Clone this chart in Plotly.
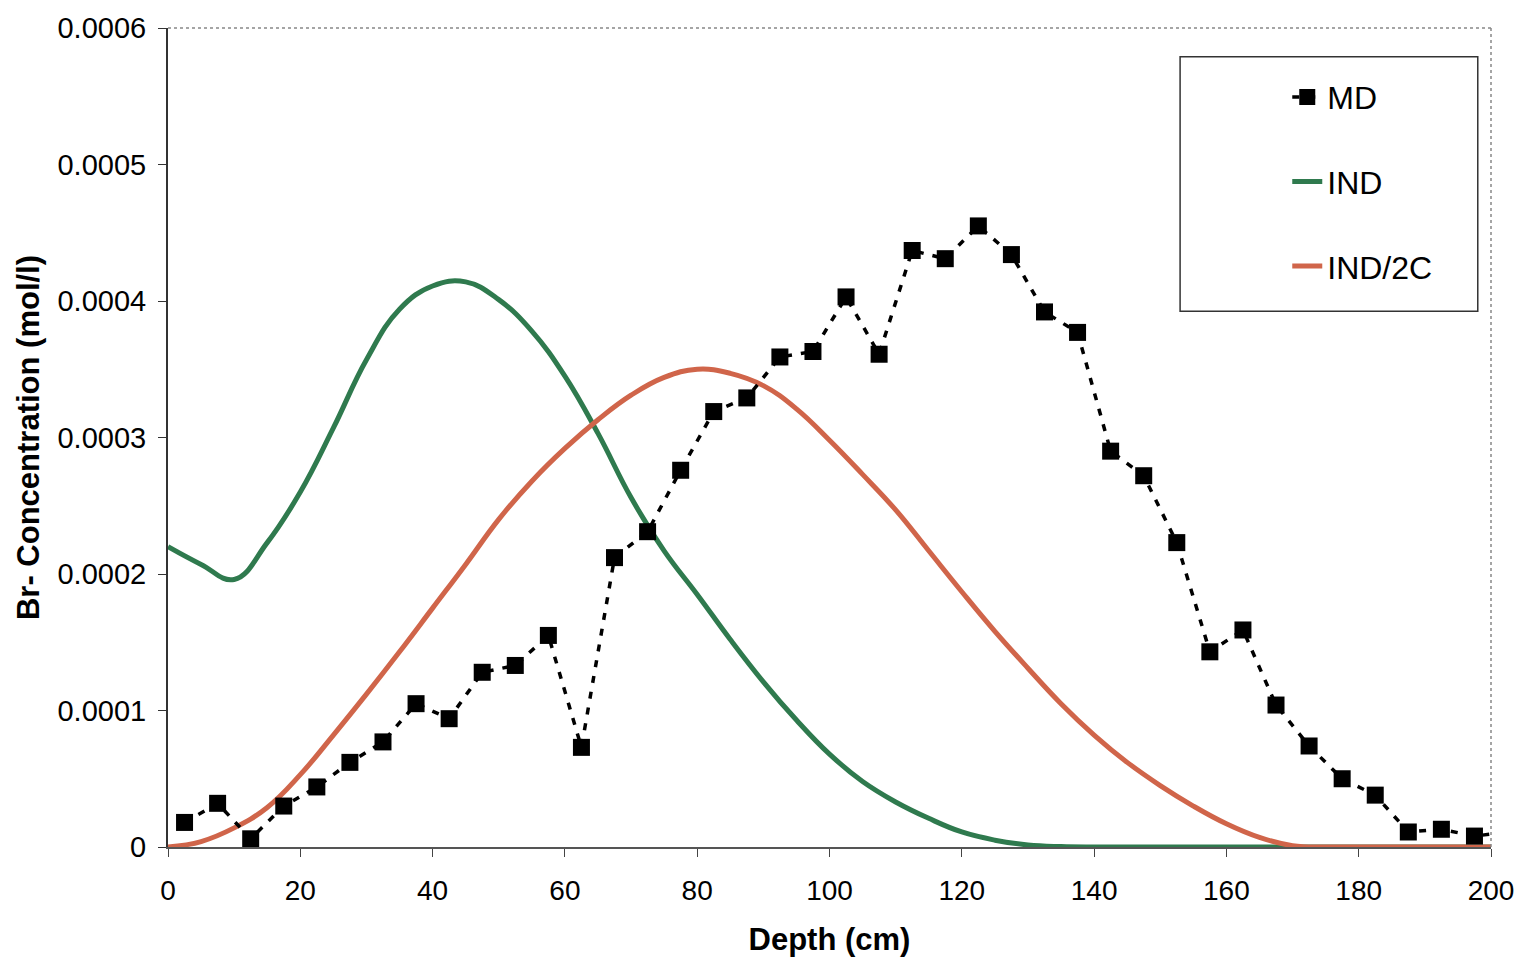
import plotly.graph_objects as go

# ---- data ----
md_depth = [2.5, 7.5, 12.5, 17.5, 22.5, 27.5, 32.5, 37.5, 42.5, 47.5,
            52.5, 57.5, 62.5, 67.5, 72.5, 77.5, 82.5, 87.5, 92.5, 97.5,
            102.5, 107.5, 112.5, 117.5, 122.5, 127.5, 132.5, 137.5, 142.5, 147.5,
            152.5, 157.5, 162.5, 167.5, 172.5, 177.5, 182.5, 187.5, 192.5, 197.5, 202.5]
md_conc = [1.8e-5, 3.2e-5, 0.6e-5, 3.0e-5, 4.4e-5, 6.2e-5, 7.7e-5, 1.05e-4, 9.4e-5, 1.28e-4,
           1.33e-4, 1.55e-4, 7.3e-5, 2.12e-4, 2.31e-4, 2.76e-4, 3.19e-4, 3.29e-4, 3.59e-4, 3.63e-4,
           4.03e-4, 3.61e-4, 4.37e-4, 4.31e-4, 4.55e-4, 4.34e-4, 3.92e-4, 3.77e-4, 2.90e-4, 2.72e-4,
           2.23e-4, 1.43e-4, 1.59e-4, 1.04e-4, 7.4e-5, 5.0e-5, 3.8e-5, 1.1e-5, 1.3e-5, 0.8e-5, 1.1e-5]

curve_depth = [0, 5, 10, 15, 20, 25, 30, 35, 40, 45, 50, 55, 60, 65, 70, 75, 80, 85, 90, 95,
               100, 105, 110, 115, 120, 125, 130, 135, 140, 145, 150, 155, 160, 165, 170,
               175, 180, 185, 190, 195, 200]
ind_conc = [2.20e-4, 2.07e-4, 1.96e-4, 2.23e-4, 2.60e-4, 3.07e-4, 3.57e-4, 3.94e-4, 4.11e-4, 4.14e-4,
            4.01e-4, 3.78e-4, 3.45e-4, 3.03e-4, 2.56e-4, 2.17e-4, 1.85e-4, 1.52e-4, 1.21e-4, 0.93e-4,
            0.68e-4, 0.48e-4, 0.33e-4, 0.21e-4, 0.11e-4, 0.05e-4, 0.015e-4, 0.003e-4, 0.0, 0.0,
            0.0, 0.0, 0.0, 0.0, 0.0, 0.0, 0.0, 0.0, 0.0, 0.0, 0.0]
ind2c_conc = [0.0, 0.04e-4, 0.14e-4, 0.29e-4, 0.53e-4, 0.82e-4, 1.12e-4, 1.43e-4, 1.75e-4, 2.07e-4,
              2.40e-4, 2.68e-4, 2.92e-4, 3.13e-4, 3.31e-4, 3.44e-4, 3.50e-4, 3.47e-4, 3.38e-4, 3.21e-4,
              2.98e-4, 2.73e-4, 2.47e-4, 2.17e-4, 1.87e-4, 1.58e-4, 1.31e-4, 1.05e-4, 0.82e-4, 0.62e-4,
              0.45e-4, 0.30e-4, 0.17e-4, 0.07e-4, 0.01e-4, 0.0, 0.0, 0.0, 0.0, 0.0, 0.0]

x_ticks = [0, 20, 40, 60, 80, 100, 120, 140, 160, 180, 200]
y_ticks = [0, 0.0001, 0.0002, 0.0003, 0.0004, 0.0005, 0.0006]
y_tick_text = ["0", "0.0001", "0.0002", "0.0003", "0.0004", "0.0005", "0.0006"]

FONT = "Liberation Sans, Arial, sans-serif"

fig = go.Figure()
fig.add_trace(go.Scatter(
    x=curve_depth, y=ind_conc, name="IND", mode="lines",
    line=dict(color="#2F7A4E", width=5, shape="spline", smoothing=1.2),
    legendgroup="b", legendrank=2))
fig.add_trace(go.Scatter(
    x=curve_depth, y=ind2c_conc, name="IND/2C", mode="lines",
    line=dict(color="#D0654A", width=5, shape="spline", smoothing=1.2),
    legendgroup="c", legendrank=3))
fig.add_trace(go.Scatter(
    x=md_depth, y=md_conc, name="MD", mode="lines+markers",
    line=dict(color="black", width=3.5, dash="7px,9px"),
    marker=dict(symbol="square", size=17, color="black"),
    legendgroup="a", legendrank=1))

fig.update_layout(
    width=1534, height=965,
    margin=dict(l=168, r=43, t=26, b=118),
    paper_bgcolor="white", plot_bgcolor="white",
    font=dict(family=FONT, color="black"),
    showlegend=True,
    legend=dict(x=0.846, y=0.9492, xanchor="left", yanchor="top",
                bgcolor="rgba(0,0,0,0)", borderwidth=0,
                font=dict(size=32, family=FONT, color="black"),
                tracegroupgap=40, traceorder="grouped"),
    xaxis=dict(range=[0, 200], tickvals=x_ticks, ticks="outside", ticklen=8,
               tickcolor="#444", showline=True, linecolor="#555", linewidth=2,
               showgrid=False, zeroline=False, ticklabelstandoff=9,
               tickfont=dict(size=28),
               title=dict(text="<b>Depth (cm)</b>", font=dict(size=31), standoff=24)),
    yaxis=dict(range=[0, 0.0006], tickvals=y_ticks, ticktext=y_tick_text,
               ticks="outside", ticklen=8, tickcolor="#333",
               showline=True, linecolor="#333", linewidth=2,
               showgrid=False, zeroline=False, ticklabelstandoff=6,
               tickfont=dict(size=29),
               title=dict(text="<b>Br- Concentration (mol/l)</b>", font=dict(size=31), standoff=9)),
    shapes=[
        dict(type="line", xref="paper", yref="paper", x0=0, x1=1, y0=1, y1=1,
             line=dict(color="#888", width=1.5, dash="dot")),
        dict(type="line", xref="paper", yref="paper", x0=1, x1=1, y0=0, y1=1,
             line=dict(color="#888", width=1.5, dash="dot")),
        dict(type="rect", xref="paper", yref="paper", x0=0.765, x1=0.990, y0=0.654, y1=0.965,
             line=dict(color="#333", width=1.5), fillcolor="rgba(0,0,0,0)"),
    ],
)

fig.write_html("out.html")
